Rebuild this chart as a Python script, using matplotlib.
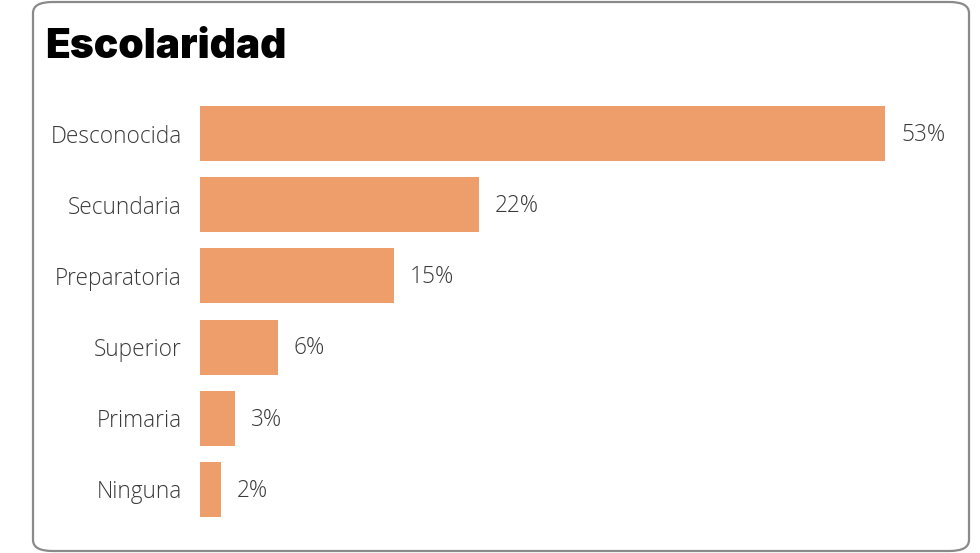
import matplotlib
matplotlib.use("Agg")
import matplotlib.pyplot as plt
from matplotlib.patches import FancyBboxPatch

categories = ["Desconocida", "Secundaria", "Preparatoria", "Superior", "Primaria", "Ninguna"]
values = [53.0, 21.6, 15.0, 6.0, 2.7, 1.6]
value_labels = ["53%", "22%", "15%", "6%", "3%", "2%"]

W, H = 980, 553
fig = plt.figure(figsize=(W / 100, H / 100), dpi=100)
fig.patch.set_facecolor("white")

frame = FancyBboxPatch((33 / W, 2 / H), (969 - 33) / W, (551 - 2) / H,
                       boxstyle="round,pad=0,rounding_size=0.02",
                       transform=fig.transFigure, facecolor="none",
                       edgecolor="#8a8a8a", linewidth=1.6, zorder=0)
fig.patches.append(frame)

fig.text(45 / W, 1 - 58 / H, "Escolaridad", fontsize=29.3, fontweight="black",
         family=["Inter", "DejaVu Sans"], color="#000000", ha="left", va="baseline")

lab_font = dict(family=["Open Sans", "DejaVu Sans"], fontweight="light")

ax = fig.add_axes([200 / W, 1 - 517 / H, 685 / W, 411 / H])
bh = 0.775
y = list(range(len(categories)))
ax.barh(y, values, height=bh, color="#EE9E6A")
ax.set_xlim(0, values[0])
ax.set_ylim(len(categories) - 1 + bh / 2, -bh / 2)
for s in ax.spines.values():
    s.set_visible(False)
ax.set_xticks([])
ax.set_yticks(y)
ax.set_yticklabels(categories, fontsize=16.3, color="#3a3a3a", **lab_font)
ax.tick_params(axis="y", length=0, pad=13)
for yi, v, lab in zip(y, values, value_labels):
    ax.annotate(lab, (v, yi), xytext=(11.5, -1), textcoords="offset points",
                va="center", ha="left", fontsize=16.3, color="#3a3a3a",
                annotation_clip=False, **lab_font)

fig.savefig("out.png", dpi=100)
